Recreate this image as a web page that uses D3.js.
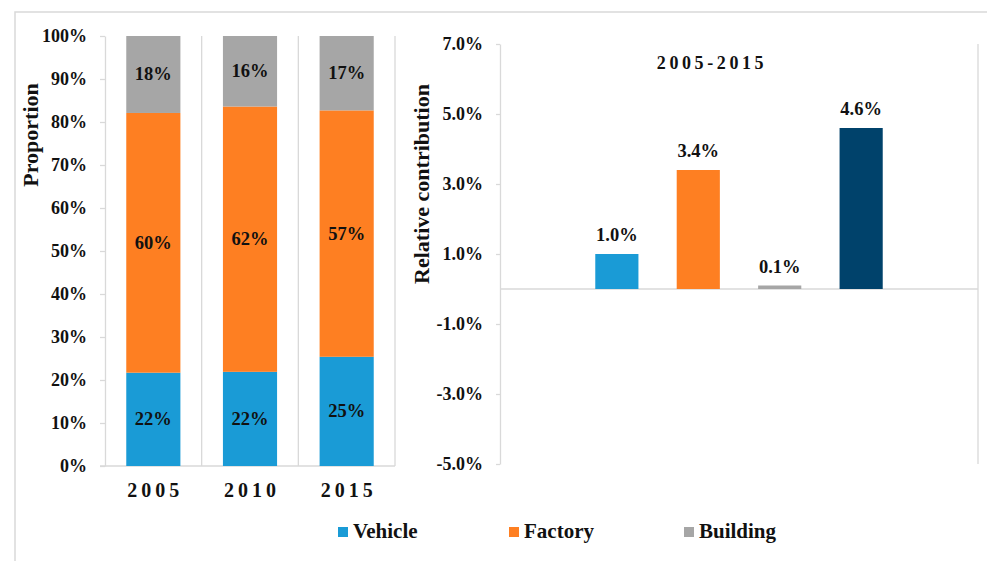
<!DOCTYPE html>
<html>
<head>
<meta charset="utf-8">
<title>Proportion and relative contribution</title>
<style>
body{ margin:0; background:#fff; }
text{ font-family:"Liberation Serif","Times New Roman",serif; font-weight:bold; fill:#111; }
.axis path, .axis line{ stroke:#d9d9d9; stroke-width:1.3px; }
.axis text{ font-size:18px; }
.grid{ stroke:#d9d9d9; stroke-width:1.3px; }
.frame{ fill:none; stroke:#d9d9d9; stroke-width:1.5px; }
</style>
</head>
<body>
<script src="https://cdn.jsdelivr.net/npm/d3@7/dist/d3.min.js"></script>
<script>

var width = 987;
var height = 561;

// left chart data (percent of total)
var years = ["2005", "2010", "2015"];
var vehicle = [21.7, 21.9, 25.4];
var factory = [60.4, 61.7, 57.3];
var building = [17.9, 16.4, 17.3];
var propTicks = [0, 10, 20, 30, 40, 50, 60, 70, 80, 90, 100];

// right chart data (relative contribution, %)
var sectors = ["Vehicle", "Factory", "Building", "Total"];
var contribution = [1.0, 3.4, 0.1, 4.6];
var contribTicks = [-5, -3, -1, 1, 3, 5, 7];

var legendNames = ["Vehicle", "Factory", "Building"];
var colors = { Vehicle: "#1a9bd6", Factory: "#fe7f22", Building: "#a6a6a6", Total: "#00426b" };

// plain hyphen for negatives, like the original
function pct1(d){ return d.toFixed(1) + "%"; }

var svg = d3.select("body").append("svg")
	.attr("width", width)
	.attr("height", height);

// outer frame
svg.append("path")
	.attr("class", "frame")
	.attr("d", "M15," + (height + 2) + "V12H" + (width + 2));

// ---------- left: stacked proportion bars ----------
var L = { left: 105, right: 395, top: 36, bottom: 466 };

var x1 = d3.scaleBand()
	.domain(years)
	.range([L.left, L.right])
	.paddingInner(0.44)
	.paddingOuter(0.22);

var y1 = d3.scaleLinear()
	.domain([0, 100])
	.range([L.bottom, L.top]);

var rows = years.map(function(d, i){
	return { year: d, Vehicle: vehicle[i], Factory: factory[i], Building: building[i] };
});

var stacked = d3.stack().keys(legendNames)(rows);

// category separators
var half = x1.step() * x1.paddingInner() / 2;
svg.selectAll(".sep")
	.data(years)
	.enter().append("line")
	.attr("class", "grid")
	.attr("x1", function(d){ return x1(d) + x1.bandwidth() + half; })
	.attr("x2", function(d){ return x1(d) + x1.bandwidth() + half; })
	.attr("y1", L.top)
	.attr("y2", L.bottom);

svg.append("line")
	.attr("class", "grid")
	.attr("x1", L.left - 5)
	.attr("x2", L.right)
	.attr("y1", L.bottom)
	.attr("y2", L.bottom);

var layer = svg.selectAll(".layer")
	.data(stacked)
	.enter().append("g")
	.attr("fill", function(d){ return colors[d.key]; });

layer.selectAll("rect")
	.data(function(d){ return d; })
	.enter().append("rect")
	.attr("x", function(d){ return x1(d.data.year); })
	.attr("y", function(d){ return y1(d[1]); })
	.attr("width", x1.bandwidth())
	.attr("height", function(d){ return y1(d[0]) - y1(d[1]); });

layer.selectAll("text")
	.data(function(d){ return d; })
	.enter().append("text")
	.attr("x", function(d){ return x1(d.data.year) + x1.bandwidth() / 2; })
	.attr("y", function(d){ return (y1(d[0]) + y1(d[1])) / 2 + 6; })
	.attr("text-anchor", "middle")
	.style("font-size", "18.5px")
	.text(function(d){ return Math.round(d[1] - d[0]) + "%"; });

svg.append("g")
	.attr("class", "axis")
	.attr("transform", "translate(" + L.left + ",0)")
	.call(d3.axisLeft(y1).tickValues(propTicks).tickSize(5).tickSizeOuter(0).tickPadding(13)
		.tickFormat(function(d){ return d + "%"; }));

svg.selectAll(".year")
	.data(years)
	.enter().append("text")
	.attr("x", function(d){ return x1(d) + x1.bandwidth() / 2 + 2; })
	.attr("y", 497)
	.attr("text-anchor", "middle")
	.style("font-size", "20px")
	.style("letter-spacing", "4px")
	.text(function(d){ return d; });

svg.append("text")
	.attr("transform", "translate(38,135) rotate(-90)")
	.attr("text-anchor", "middle")
	.style("font-size", "22px")
	.text("Proportion");

// ---------- right: relative contribution ----------
var R = { left: 500, right: 978, top: 44, bottom: 464 };

var x2 = d3.scaleBand()
	.domain(sectors)
	.range([R.left, R.right])
	.paddingInner(0.47)
	.paddingOuter(1.17);

var y2 = d3.scaleLinear()
	.domain([-5, 7])
	.range([R.bottom, R.top]);

svg.append("line")
	.attr("class", "grid")
	.attr("x1", R.right)
	.attr("x2", R.right)
	.attr("y1", R.top)
	.attr("y2", R.bottom);

svg.append("line")
	.attr("class", "grid")
	.attr("x1", R.left)
	.attr("x2", R.right)
	.attr("y1", y2(0))
	.attr("y2", y2(0));

svg.selectAll(".cbar")
	.data(contribution)
	.enter().append("rect")
	.attr("x", function(d, i){ return x2(sectors[i]); })
	.attr("y", function(d){ return y2(Math.max(0, d)); })
	.attr("width", x2.bandwidth())
	.attr("height", function(d){ return Math.abs(y2(d) - y2(0)); })
	.attr("fill", function(d, i){ return colors[sectors[i]]; });

svg.selectAll(".clabel")
	.data(contribution)
	.enter().append("text")
	.attr("x", function(d, i){ return x2(sectors[i]) + x2.bandwidth() / 2; })
	.attr("y", function(d){ return y2(d) - 13; })
	.attr("text-anchor", "middle")
	.style("font-size", "18.5px")
	.text(pct1);

svg.append("g")
	.attr("class", "axis")
	.attr("transform", "translate(" + R.left + ",0)")
	.call(d3.axisLeft(y2).tickValues(contribTicks).tickSize(4).tickSizeOuter(0).tickPadding(13)
		.tickFormat(pct1));

svg.append("text")
	.attr("x", 712)
	.attr("y", 69)
	.attr("text-anchor", "middle")
	.style("font-size", "18px")
	.style("letter-spacing", "3.6px")
	.text("2005-2015");

svg.append("text")
	.attr("transform", "translate(429,184) rotate(-90)")
	.attr("text-anchor", "middle")
	.style("font-size", "22px")
	.text("Relative contribution");

// ---------- legend ----------
var legendX = [338, 509, 684];

var legend = svg.selectAll(".legend")
	.data(legendNames)
	.enter().append("g")
	.attr("transform", function(d, i){ return "translate(" + legendX[i] + ",527)"; });

legend.append("rect")
	.attr("width", 10)
	.attr("height", 10)
	.attr("fill", function(d){ return colors[d]; });

legend.append("text")
	.attr("x", 15)
	.attr("y", 11)
	.style("font-size", "21px")
	.text(function(d){ return d; });

</script>
</body>
</html>
